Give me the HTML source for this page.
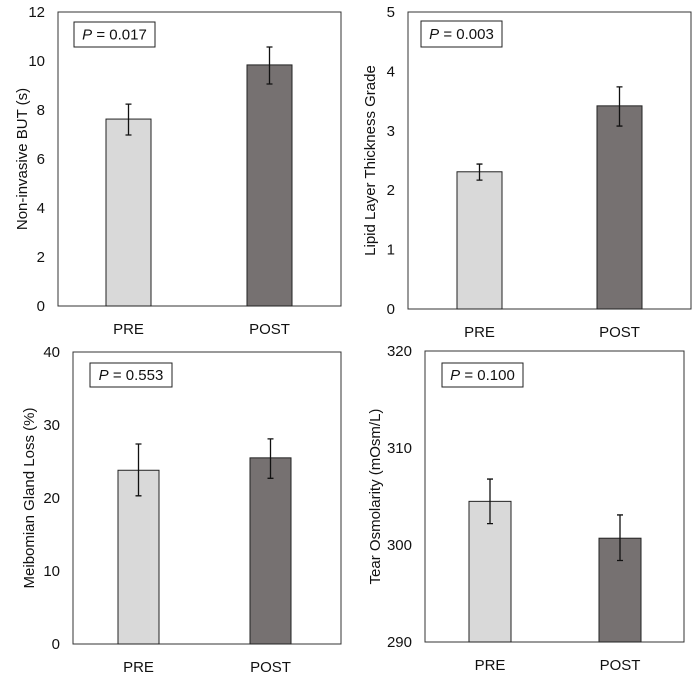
<!DOCTYPE html>
<html><head><meta charset="utf-8"><style>
html,body{margin:0;padding:0;background:#fff;}
svg{display:block;font-family:"Liberation Sans",Arial,sans-serif;}
</style></head><body>
<svg id="chart" width="700" height="678" viewBox="0 0 700 678"></svg>
<script>
const categories = ["PRE", "POST"];
const butValues = [7.63, 9.84];
const butUpper = [8.24, 10.57];
const butLower = [6.98, 9.06];
const lipidValues = [2.31, 3.42];
const lipidUpper = [2.44, 3.74];
const lipidLower = [2.17, 3.08];
const meiboValues = [23.8, 25.5];
const meiboUpper = [27.4, 28.1];
const meiboLower = [20.3, 22.7];
const osmoValues = [304.5, 300.7];
const osmoUpper = [306.8, 303.1];
const osmoLower = [302.2, 298.4];
const butTicks = [0, 2, 4, 6, 8, 10, 12];
const lipidTicks = [0, 1, 2, 3, 4, 5];
const meiboTicks = [0, 10, 20, 30, 40];
const osmoTicks = [290, 300, 310, 320];
const pLabels = ["0.017", "0.003", "0.553", "0.100"];

const NS = "http://www.w3.org/2000/svg";
const svg = document.getElementById("chart");
function mk(tag, attrs, parent) {
  const e = document.createElementNS(NS, tag);
  for (const k in attrs) e.setAttribute(k, attrs[k]);
  (parent || svg).appendChild(e);
  return e;
}
const colors = ["#d9d9d9", "#767171"];

const panels = [
  {key:"but", title:"Non-invasive BUT (s)", vals:butValues, up:butUpper, lo:butLower, ticks:butTicks, p:pLabels[0],
   x0:58, x1:341, y0:12, y1:306, barX:[106,247], barW:45, pbox:[74,22,81,25], titleX:22},
  {key:"lipid", title:"Lipid Layer Thickness Grade", vals:lipidValues, up:lipidUpper, lo:lipidLower, ticks:lipidTicks, p:pLabels[1],
   x0:408, x1:691, y0:12, y1:309, barX:[457,597], barW:45, pbox:[421,21,81,26], titleX:370},
  {key:"meibo", title:"Meibomian Gland Loss (%)", vals:meiboValues, up:meiboUpper, lo:meiboLower, ticks:meiboTicks, p:pLabels[2],
   x0:73, x1:341, y0:352, y1:644, barX:[118,250], barW:41, pbox:[90,363,82,24], titleX:29},
  {key:"osmo", title:"Tear Osmolarity (mOsm/L)", vals:osmoValues, up:osmoUpper, lo:osmoLower, ticks:osmoTicks, p:pLabels[3],
   x0:425, x1:684, y0:351, y1:642, barX:[469,599], barW:42, pbox:[442,363,81,24], titleX:375}
];

panels.forEach(pn => {
  const g = mk("g", {});
  
  
  const tmin = pn.ticks[0], tmax = pn.ticks[pn.ticks.length-1];
  const yS = v => pn.y1 - (v - tmin) / (tmax - tmin) * (pn.y1 - pn.y0);
  const frame = mk("rect", {x:pn.x0, y:pn.y0, width:pn.x1-pn.x0, height:pn.y1-pn.y0, fill:"#fff", stroke:"#333", "stroke-width":1}, g);
  
  
  pn.ticks.forEach(t => {
    const tx = mk("text", {x:pn.x0-13, y:yS(t)+5, "text-anchor":"end", "font-size":15, fill:"#111"}, g);
    tx.textContent = t;
    
    
  });
  const cy = (pn.y0 + pn.y1) / 2;
  const yt = mk("text", {x:pn.titleX, y:cy, "text-anchor":"middle", "font-size":15, fill:"#111", transform:`rotate(-90 ${pn.titleX} ${cy})`, dy:5}, g);
  yt.textContent = pn.title;
  
  
  categories.forEach((c, i) => {
    const bx = pn.barX[i], by = yS(pn.vals[i]);
    const r = mk("rect", {x:bx, y:by, width:pn.barW, height:pn.y1-by, fill:colors[i], stroke:"#222", "stroke-width":1}, g);
    
    
    const mx = bx + pn.barW/2, yu = yS(pn.up[i]), yl = yS(pn.lo[i]);
    const eb = mk("path", {d:`M${mx},${yu}V${yl}M${mx-3},${yu}H${mx+3}M${mx-3},${yl}H${mx+3}`, stroke:"#111", "stroke-width":1.3, fill:"none"}, g);
    
    
    const xl = mk("text", {x:mx, y:pn.y1+28, "text-anchor":"middle", "font-size":15, fill:"#111"}, g);
    xl.textContent = c;
    
    
  });
  const [px, py, pw, ph] = pn.pbox;
  const pb = mk("rect", {x:px, y:py, width:pw, height:ph, fill:"#fff", stroke:"#222", "stroke-width":1}, g);
  
  
  const pt = mk("text", {x:px+pw/2, y:py+ph/2+5, "text-anchor":"middle", "font-size":15, fill:"#111"}, g);
  
  
  const it = mk("tspan", {"font-style":"italic"}, pt);
  it.textContent = "P";
  const rest = mk("tspan", {}, pt);
  rest.textContent = " = " + pn.p;
});
</script>
</body></html>
